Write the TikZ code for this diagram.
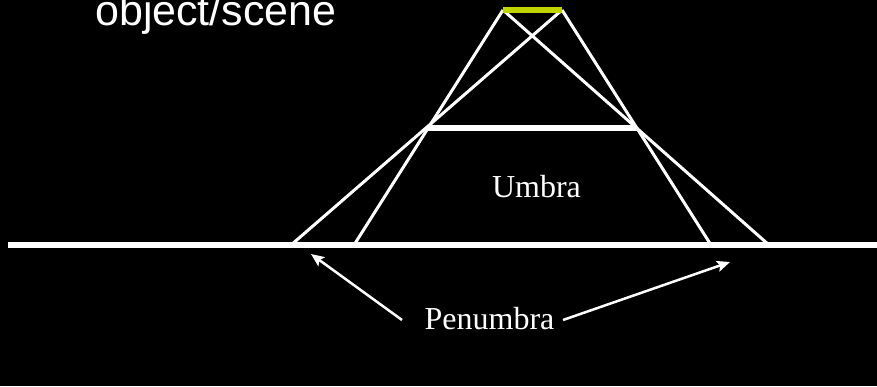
\documentclass[tikz,border=0pt]{standalone}
\usepackage{fontspec}
\setmainfont{Liberation Serif}
\newfontfamily\arialf{Liberation Sans}
\usetikzlibrary{arrows.meta}
\definecolor{lime}{RGB}{192,212,0}
\tikzset{
  ray/.style={draw=white, line width=3pt},
  bar/.style={draw=white, line width=6pt},
  pointer/.style={draw=white, line width=2.5pt, -{Stealth[length=13pt,width=11pt,inset=2.5pt]}},
  lbl/.style={text=white, inner sep=0pt, font=\fontsize{32}{36}\selectfont},
}
\begin{document}
\begin{tikzpicture}[x=1pt,y=-1pt]
\fill[black] (0,0) rectangle (877,386);
\useasboundingbox (0,0) rectangle (877,386);
% light source
\coordinate (L1) at (503,10);
\coordinate (L2) at (562,10);
% occluder
\coordinate (O1) at (428,128);
\coordinate (O2) at (637,128);
% ground hits
\coordinate (G1) at (291,245);
\coordinate (G2) at (354,245);
\coordinate (G3) at (711,245);
\coordinate (G4) at (769,245);
\coordinate (GL) at (8,245);
\coordinate (GR) at (877,245);
% rays
\draw[ray] (L1) -- (G2);
\draw[ray] (L1) -- (G4);
\draw[ray] (L2) -- (G1);
\draw[ray] (L2) -- (G3);
% ground and occluder
\draw[bar] (GL) -- (GR);
\draw[bar] (O1) -- (O2);
\draw[draw=lime, line width=6pt] (L1) -- (L2);
% labels
\node[lbl, anchor=base west, font=\arialf\fontsize{43}{48}\selectfont] (obj) at (95,25) {object/scene};
\node[lbl, anchor=base] (umbra) at (536.5,197) {Umbra};
\node[lbl, anchor=base] (pen) at (489.5,329) {Penumbra};
% arrows
\coordinate (T1) at (402,320);
\coordinate (T2) at (563,320);
\coordinate (H1) at (311,254);
\coordinate (H2) at (730,262);
\draw[pointer] (T1) -- (H1);
\draw[pointer] (T2) -- (H2);
\end{tikzpicture}
\end{document}
